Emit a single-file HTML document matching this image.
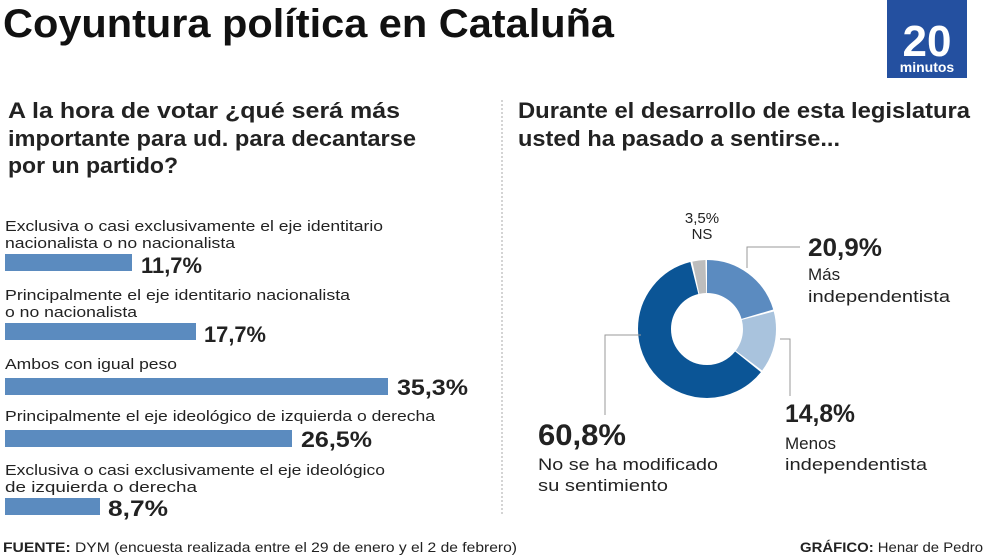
<!DOCTYPE html>
<html><head><meta charset="utf-8"><style>
html,body{margin:0;padding:0;background:#fff;}
svg{display:block;font-family:"Liberation Sans Narrow","Liberation Sans",sans-serif;}
</style></head><body>
<svg width="990" height="556" viewBox="0 0 990 556" xmlns="http://www.w3.org/2000/svg">
<rect width="990" height="556" fill="#fff"/>
<text x="3" y="37" font-size="40" font-weight="bold" fill="#111" textLength="611" lengthAdjust="spacingAndGlyphs">Coyuntura política en Cataluña</text>
<rect x="887" y="0" width="80" height="78" fill="#2450a0"/>
<text x="927" y="56" font-size="44" font-weight="bold" fill="#fff" text-anchor="middle" font-family="Liberation Sans">20</text>
<text x="927" y="72" font-size="14" font-weight="bold" fill="#fff" text-anchor="middle" font-family="Liberation Sans">minutos</text>
<line x1="502" y1="100" x2="502" y2="515" stroke="#aaa" stroke-width="1" stroke-dasharray="2,2"/>
<g font-size="22" font-weight="bold" fill="#222">
<text x="8" y="118" textLength="392" lengthAdjust="spacingAndGlyphs">A la hora de votar ¿qué será más</text>
<text x="8" y="146" textLength="408" lengthAdjust="spacingAndGlyphs">importante para ud. para decantarse</text>
<text x="8" y="173" textLength="170" lengthAdjust="spacingAndGlyphs">por un partido?</text>
<text x="518" y="118" textLength="452" lengthAdjust="spacingAndGlyphs">Durante el desarrollo de esta legislatura</text>
<text x="518" y="146" textLength="322" lengthAdjust="spacingAndGlyphs">usted ha pasado a sentirse...</text>
</g>
<g font-size="15" fill="#222">
<text x="5" y="231" textLength="378" lengthAdjust="spacingAndGlyphs">Exclusiva o casi exclusivamente el eje identitario</text>
<text x="5" y="248" textLength="230" lengthAdjust="spacingAndGlyphs">nacionalista o no nacionalista</text>
<text x="5" y="300" textLength="345" lengthAdjust="spacingAndGlyphs">Principalmente el eje identitario nacionalista</text>
<text x="5" y="317" textLength="132" lengthAdjust="spacingAndGlyphs">o no nacionalista</text>
<text x="5" y="369" textLength="172" lengthAdjust="spacingAndGlyphs">Ambos con igual peso</text>
<text x="5" y="421" textLength="430" lengthAdjust="spacingAndGlyphs">Principalmente el eje ideológico de izquierda o derecha</text>
<text x="5" y="475" textLength="380" lengthAdjust="spacingAndGlyphs">Exclusiva o casi exclusivamente el eje ideológico</text>
<text x="5" y="492" textLength="192" lengthAdjust="spacingAndGlyphs">de izquierda o derecha</text>
</g>
<g fill="#5b8bbf">
<rect x="5" y="254" width="127" height="17"/>
<rect x="5" y="323" width="191" height="17"/>
<rect x="5" y="378" width="383" height="17"/>
<rect x="5" y="430" width="287" height="17"/>
<rect x="5" y="498" width="95" height="17"/>
</g>
<g font-size="22" font-weight="bold" fill="#222">
<text x="141" y="273" textLength="61" lengthAdjust="spacingAndGlyphs">11,7%</text>
<text x="204" y="342" textLength="62" lengthAdjust="spacingAndGlyphs">17,7%</text>
<text x="397" y="395" textLength="71" lengthAdjust="spacingAndGlyphs">35,3%</text>
<text x="301" y="447" textLength="71" lengthAdjust="spacingAndGlyphs">26,5%</text>
<text x="108" y="516" textLength="60" lengthAdjust="spacingAndGlyphs">8,7%</text>
</g>
<g transform="rotate(-90 707 329)" fill="none" stroke-width="33">
<circle cx="707" cy="329" r="52.5" stroke="#5b8bc0" stroke-dasharray="67.4 400" stroke-dashoffset="0"/>
<circle cx="707" cy="329" r="52.5" stroke="#a9c3dd" stroke-dasharray="47.3 400" stroke-dashoffset="-68.94"/>
<circle cx="707" cy="329" r="52.5" stroke="#0b5596" stroke-dasharray="199 400" stroke-dashoffset="-117.76"/>
<circle cx="707" cy="329" r="52.5" stroke="#bdbdbd" stroke-dasharray="10 400" stroke-dashoffset="-318.32"/>
</g>
<g stroke="#999" stroke-width="1" fill="none">
<polyline points="747,268 747,247 800,247"/>
<polyline points="780,339 790,339 790,396"/>
<polyline points="641,335 605,335 605,415"/>
</g>
<g fill="#222">
<text x="702" y="223" font-size="15" text-anchor="middle">3,5%</text>
<text x="702" y="239" font-size="15" text-anchor="middle">NS</text>
<text x="808" y="256" font-size="25" font-weight="bold" textLength="74" lengthAdjust="spacingAndGlyphs">20,9%</text>
<text x="808" y="280" font-size="17">Más</text>
<text x="808" y="302" font-size="17" textLength="142" lengthAdjust="spacingAndGlyphs">independentista</text>
<text x="785" y="422" font-size="25" font-weight="bold" textLength="70" lengthAdjust="spacingAndGlyphs">14,8%</text>
<text x="785" y="449" font-size="17">Menos</text>
<text x="785" y="470" font-size="17" textLength="142" lengthAdjust="spacingAndGlyphs">independentista</text>
<text x="538" y="445" font-size="30" font-weight="bold" textLength="88" lengthAdjust="spacingAndGlyphs">60,8%</text>
<text x="538" y="470" font-size="17" textLength="180" lengthAdjust="spacingAndGlyphs">No se ha modificado</text>
<text x="538" y="491" font-size="17" textLength="130" lengthAdjust="spacingAndGlyphs">su sentimiento</text>
</g>
<text x="3" y="552" font-size="14" fill="#222" textLength="514" lengthAdjust="spacingAndGlyphs"><tspan font-weight="bold">FUENTE:</tspan> DYM (encuesta realizada entre el 29 de enero y el 2 de febrero)</text>
<text x="800" y="552" font-size="14" fill="#222" textLength="183" lengthAdjust="spacingAndGlyphs"><tspan font-weight="bold">GRÁFICO:</tspan> Henar de Pedro</text>
</svg>
</body></html>
